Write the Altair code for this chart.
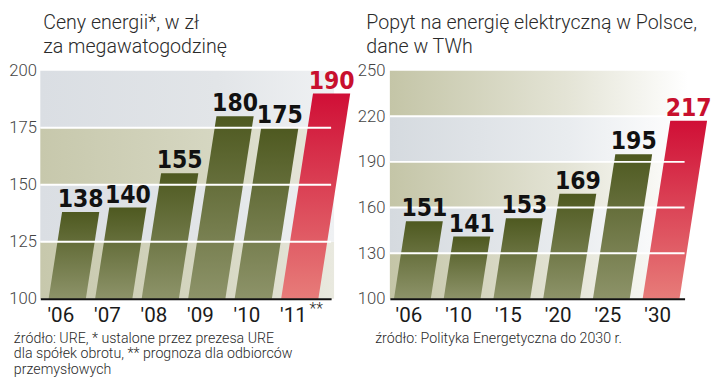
import json
import altair as alt
import pandas as pd

# ---------------- data ----------------
years_price = ["'06", "'07", "'08", "'09", "'10", "'11"]
price_values = [138, 140, 155, 180, 175, 190]
price_ticks = [100, 125, 150, 175, 200]

years_demand = ["'06", "'10", "'15", "'20", "'25", "'30"]
demand_values = [151, 141, 153, 169, 195, 217]
demand_ticks = [100, 130, 160, 190, 220, 250]

title_price = ["Ceny energii*, w zł", "za megawatogodzinę"]
title_demand = ["Popyt na energię elektryczną w Polsce,", "dane w TWh"]
note_price = ["źródło: URE, * ustalone przez prezesa URE",
              "dla spółek obrotu, ** prognoza dla odbiorców",
              "przemysłowych"]
note_demand = ["źródło: Polityka Energetyczna do 2030 r."]

# ---------------- style ----------------
FONT = "Roboto"
NUM_FONT = "Liberation Sans Narrow, DejaVu Sans Condensed, Roboto"
RED = "#c8102e"
SLANT = 0.155  # horizontal px shift per px of bar height
H = 233

olive = alt.Gradient(gradient="linear", x1=0, x2=0, y1=0, y2=1,
                     stops=[alt.GradientStop(color="#4e5920", offset=0),
                            alt.GradientStop(color="#8d9369", offset=1)])
red = alt.Gradient(gradient="linear", x1=0, x2=0, y1=0, y2=1,
                   stops=[alt.GradientStop(color="#d00f36", offset=0),
                          alt.GradientStop(color="#e77c79", offset=1)])


def band_grad(c0, c1, c2, mid):
    return alt.Gradient(gradient="linear", x1=0, x2=1, y1=0, y2=0,
                        stops=[alt.GradientStop(color=c0, offset=0),
                               alt.GradientStop(color=c1, offset=mid),
                               alt.GradientStop(color=c2, offset=1)])


def panel(labels, values, ticks, W, pitch, first_center, half_px, label_offset,
          title_lines, title_x, note_lines, note_x, ylab_pad, fade, stars=False):
    base, top = ticks[0], ticks[-1]
    n = len(values)
    dom = [-first_center / pitch, (W - first_center) / pitch]
    K = SLANT * (H / (top - base)) / pitch
    half = half_px / pitch

    bars = pd.DataFrame({
        "i": [i for i in range(n) for _ in (0, 1)],
        "y": [v for val in values for v in (base, val)],
        "forecast": [i == n - 1 for i in range(n) for _ in (0, 1)],
    })
    vals = pd.DataFrame({"i": list(range(n)), "v": values,
                         "forecast": [i == n - 1 for i in range(n)]})
    bands = pd.DataFrame({"lo": ticks[:-1], "hi": ticks[1:],
                          "kind": ["k" if k % 2 == 0 else "g" for k in range(len(ticks) - 1)]})

    yscale = alt.Scale(domain=[base, top], nice=False, zero=False)
    yaxis = alt.Axis(values=ticks, title=None, labelFont=FONT, labelFontWeight=300,
                     labelFontSize=17, labelColor="#444", labelPadding=ylab_pad,
                     ticks=False, domain=False, grid=False)
    xscale = alt.Scale(domain=dom, nice=False, zero=False)
    xaxis = alt.Axis(values=list(range(n)), title=None,
                     labelExpr=json.dumps(labels) + "[datum.value]",
                     labelFont=FONT, labelFontSize=21, labelColor="#1a1a1a",
                     labelPadding=6, labelOffset=label_offset, ticks=False,
                     grid=False, domainColor="#111", domainWidth=2, zindex=1)

    if fade:
        gk = band_grad("#c4c5a7", "#e4e4d6", "#ffffff", 0.6)
        gg = band_grad("#d5dadf", "#e9ecef", "#ffffff", 0.6)
    else:
        gk = band_grad("#c7c8ac", "#d6d7c2", "#e9e9df", 0.6)
        gg = band_grad("#dadee3", "#e2e5e8", "#eff1f3", 0.6)

    def band_layer(kind, grad):
        return alt.Chart(bands).transform_filter(f"datum.kind == '{kind}'").mark_rect(
            fill=grad).encode(x=alt.value(0), x2=alt.value(W + 3),
                              y=alt.Y("hi:Q", scale=yscale, axis=yaxis), y2="lo:Q")

    def bar_layer(forecast, grad):
        return alt.Chart(bars).transform_filter(
            "datum.forecast" if forecast else "!datum.forecast"
        ).transform_calculate(
            xl=f"datum.i - {half} + {K} * (datum.y - {base})",
            xr=f"datum.i + {half} + {K} * (datum.y - {base})",
        ).mark_area(orient="horizontal", color=grad, opacity=1).encode(
            y=alt.Y("y:Q", scale=yscale, axis=yaxis),
            x=alt.X("xl:Q", scale=xscale, axis=xaxis, stack=None),
            x2=alt.X2("xr:Q"),
            detail="i:N",
        )

    # white grid lines over the bars, at the band boundaries
    gridlines = alt.Chart(bands).transform_filter(
        f"datum.hi < {top}"
    ).mark_rule(color="#ffffff", strokeWidth=2).encode(
        y=alt.Y("hi:Q", scale=yscale, axis=yaxis))

    texts = alt.Chart(vals).transform_calculate(
        xc=f"datum.i + {K} * (datum.v - {base})"
    ).mark_text(font=NUM_FONT, fontWeight="bold", fontSize=25, baseline="alphabetic",
                dy=-5).encode(
        x=alt.X("xc:Q", scale=xscale, axis=xaxis),
        y=alt.Y("v:Q", scale=yscale, axis=yaxis),
        text="v:Q",
        color=alt.condition("datum.forecast", alt.value(RED), alt.value("#111")),
    )

    one = pd.DataFrame({"a": [0]})
    title = alt.Chart(one).mark_text(text=title_lines, font=FONT, fontWeight=300,
                                     fontSize=20, lineHeight=25, align="left",
                                     baseline="alphabetic", color="#2a2a2a").encode(
        x=alt.value(title_x), y=alt.value(-43))
    note = alt.Chart(one).mark_text(text=note_lines, font=FONT, fontWeight=300,
                                    fontSize=14.5, lineHeight=16, align="left",
                                    baseline="alphabetic", color="#2a2a2a").encode(
        x=alt.value(note_x), y=alt.value(H + 45))

    layers = [band_layer("k", gk), band_layer("g", gg), bar_layer(False, olive),
              bar_layer(True, red), gridlines, texts, title, note]
    if stars:
        layers.append(alt.Chart(one).mark_text(text="**", font=FONT, fontWeight=300,
                                               fontSize=16, align="left",
                                               baseline="top", color="#2a2a2a").encode(
            x=alt.value(W - 22), y=alt.value(H + 3)))
    return alt.layer(*layers).properties(width=W, height=H)


left = panel(years_price, price_values, price_ticks, W=297, pitch=47.5,
             first_center=27.5, half_px=19, label_offset=-7,
             title_lines=title_price, title_x=3, note_lines=note_price, note_x=-27,
             ylab_pad=4, fade=False, stars=True)
right = panel(years_demand, demand_values, demand_ticks, W=301, pitch=50.8,
              first_center=23, half_px=18.8, label_offset=-4,
              title_lines=title_demand, title_x=-24, note_lines=note_demand, note_x=-15,
              ylab_pad=5, fade=True)

chart = alt.hconcat(left, right, spacing=60, bounds="flush").properties(
    padding={"left": 0, "top": 1, "right": 0, "bottom": 0}
).configure_view(stroke=None)

chart.save("out.html", embed_options={"renderer": "svg", "actions": False})
